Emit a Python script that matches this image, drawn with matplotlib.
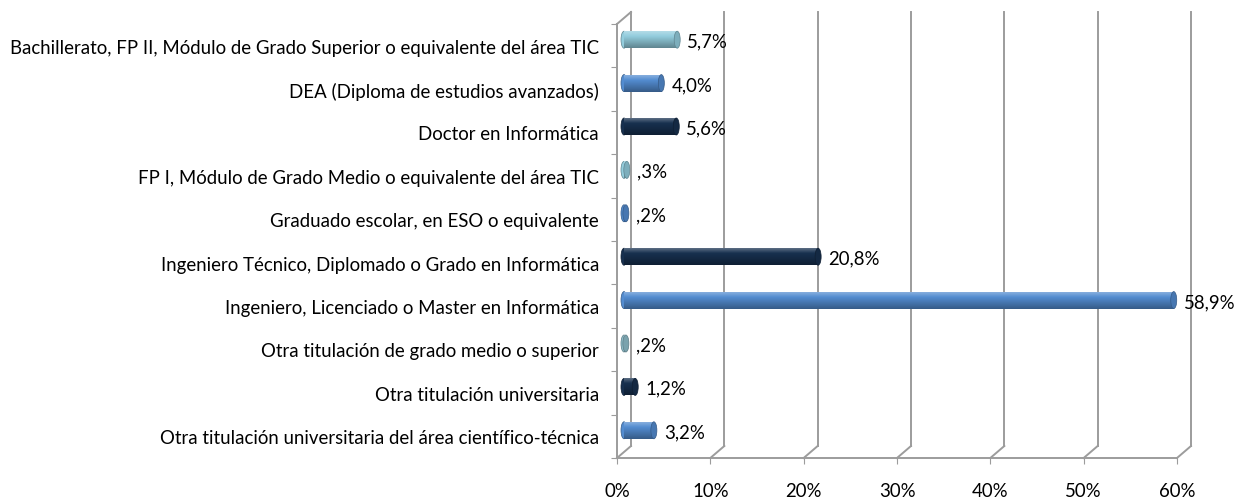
import numpy as np
import matplotlib
matplotlib.use("Agg")
from matplotlib import pyplot as plt
from matplotlib.patches import Rectangle, Ellipse
from matplotlib.colors import to_rgb

plt.rcParams['font.family'] = ['Lato', 'DejaVu Sans']

categorias = [
    "Bachillerato, FP II, Módulo de Grado Superior o equivalente del área TIC",
    "DEA (Diploma de estudios avanzados)",
    "Doctor en Informática",
    "FP I, Módulo de Grado Medio o equivalente del área TIC",
    "Graduado escolar, en ESO o equivalente",
    "Ingeniero Técnico, Diplomado o Grado en Informática",
    "Ingeniero, Licenciado o Master en Informática",
    "Otra titulación de grado medio o superior",
    "Otra titulación universitaria",
    "Otra titulación universitaria del área científico-técnica",
]
valores = [5.7, 4.0, 5.6, 0.3, 0.2, 20.8, 58.9, 0.2, 1.2, 3.2]

cian = "#93CDDD"
azul = "#538CD0"
marino = "#17304F"
colores = [cian, azul, marino, cian, azul, marino, azul, "#8FBFCC", marino, azul]

ticks_x = [0, 10, 20, 30, 40, 50, 60]
etiquetas_x = ["0%", "10%", "20%", "30%", "40%", "50%", "60%"]

gris = "#9C9C9C"
fs = 13.4

W, H = 1235, 502
fig = plt.figure(figsize=(W / 100, H / 100), dpi=100)
# zona frontal del grafico en pixeles (izq, arriba, der, abajo)
x0, y_top, x1, y_bot = 617, 25, 1177, 459
ax = fig.add_axes([x0 / W, 1 - y_bot / H, (x1 - x0) / W, (y_bot - y_top) / H])

n = len(categorias)
ax.set_xlim(0, 60)
ax.set_ylim(n - 0.5, -0.5)

# profundidad 3D: desplazamiento del plano de fondo en pixeles
px_x = (x1 - x0) / 60.0
px_y = (y_bot - y_top) / n
dx = 14 / px_x
dy = 12 / px_y

# lineas del fondo y conectores del suelo
for t in ticks_x:
    ax.plot([t + dx, t + dx], [n - 0.5 - dy, -0.5 - dy], color=gris, lw=1.4,
            clip_on=False, zorder=1)
    ax.plot([t, t + dx], [n - 0.5, n - 0.5 - dy], color=gris, lw=1.4,
            clip_on=False, zorder=1)
# borde superior de la pared izquierda
ax.plot([0, dx], [-0.5, -0.5 - dy], color=gris, lw=1.4, clip_on=False, zorder=1)

# barras tipo cilindro
alto = 17 / px_y
tapa = 6 / px_x
for i, (v, c) in enumerate(zip(valores, colores)):
    yc = i - dy / 2
    xs = dx / 2
    base = np.array(to_rgb(c))
    claro = base + (1 - base) * 0.3
    oscuro = base * 0.65
    grad = np.linspace(0, 1, 64)
    cols = []
    for g in grad:
        if g < 0.3:
            cols.append(claro + (base - claro) * (g / 0.3))
        else:
            cols.append(base + (oscuro - base) * ((g - 0.3) / 0.7))
    img = np.array(cols).reshape(-1, 1, 3)
    rect = Rectangle((xs, yc - alto / 2), v, alto, facecolor="none",
                     edgecolor="none", zorder=3)
    ax.add_patch(rect)
    ax.add_patch(Ellipse((xs, yc), tapa, alto, facecolor=base,
                         edgecolor=oscuro, lw=0.5, zorder=2.9, clip_on=False))
    im = ax.imshow(img, extent=(xs, xs + v, yc + alto / 2, yc - alto / 2),
                   aspect="auto", zorder=3, interpolation="bilinear")
    im.set_clip_path(rect)
    ax.add_patch(Ellipse((xs + v, yc), tapa, alto, facecolor=base * 0.85,
                         edgecolor=oscuro, lw=0.5, zorder=3.1, clip_on=False))
    txt = f"{v:.1f}".replace(".", ",")
    if txt.startswith("0"):
        txt = txt[1:]
    ax.annotate(txt + "%", xy=(xs + v + tapa / 2, yc), xytext=(5, -1),
                textcoords="offset points", va="center", ha="left",
                fontsize=fs, color="black", zorder=4, annotation_clip=False)

ax.set_xlim(0, 60)
ax.set_ylim(n - 0.5, -0.5)

ax.set_yticks(np.arange(-0.5, n, 1), minor=False)
ax.set_yticklabels([])
ax.set_yticks(np.arange(n), minor=True)
ax.set_yticklabels(categorias, minor=True, fontsize=fs)
ax.tick_params(axis="y", which="major", length=4, color=gris, direction="out")
ax.tick_params(axis="y", which="minor", length=0, pad=13)

ax.set_xticks(ticks_x)
ax.set_xticklabels(etiquetas_x, fontsize=fs)
ax.tick_params(axis="x", length=4, color=gris, direction="out", pad=13)

for s in ["top", "right"]:
    ax.spines[s].set_visible(False)
for s in ["left", "bottom"]:
    ax.spines[s].set_color(gris)
    ax.spines[s].set_linewidth(1.4)
ax.set_facecolor("none")

fig.savefig("out.png", dpi=100, facecolor="white")
